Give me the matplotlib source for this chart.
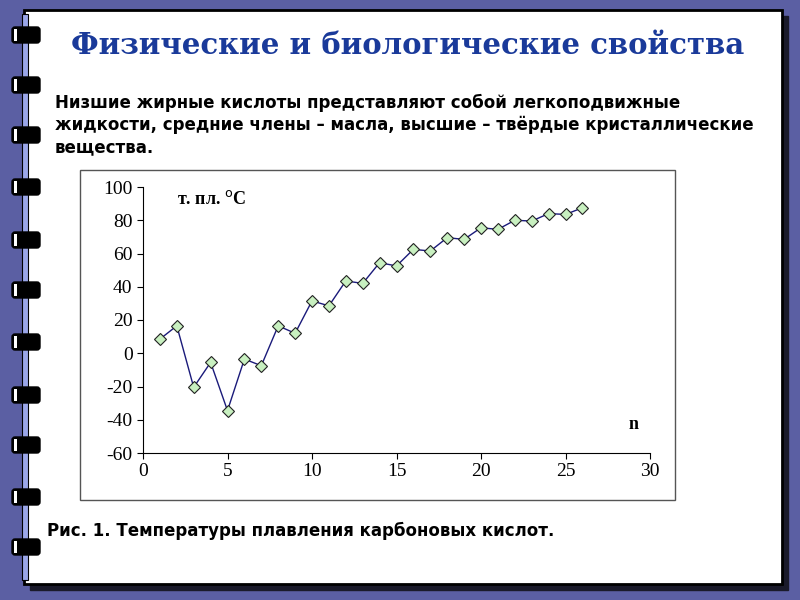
import matplotlib
matplotlib.use("Agg")
import matplotlib.pyplot as plt
from matplotlib.patches import Rectangle, FancyBboxPatch
plt.rcParams['axes.unicode_minus'] = False

n = list(range(1, 27))
tpl = [8.5, 16.5, -20.5, -5.5, -34.5, -3.5, -7.5, 16.5, 12, 31.5, 28.5, 43.5, 42,
       54.5, 52.5, 62.5, 61.5, 69.5, 68.5, 75.5, 74.5, 80, 79.5, 84, 83.5, 87.5]
xticks = [0, 5, 10, 15, 20, 25, 30]
yticks = [-60, -40, -20, 0, 20, 40, 60, 80, 100]

W, H = 800, 600
fig = plt.figure(figsize=(8, 6), dpi=100)
fig.patch.set_facecolor('#5b5fa3')
bg = fig.add_axes([0, 0, 1, 1]); bg.set_xlim(0, W); bg.set_ylim(H, 0); bg.axis('off')
bg.add_patch(Rectangle((30, 16), 758, 574, color='#1a1a2a', zorder=1))
bg.add_patch(Rectangle((24, 10), 758, 574, facecolor='white', edgecolor='black', lw=2, zorder=2))
bg.add_patch(Rectangle((22, 14), 6, 566, facecolor='#9aa6e8', edgecolor='black', lw=0.8, zorder=3))
for y in [35, 85, 135, 187, 240, 290, 342, 395, 445, 497, 547]:
    bg.add_patch(FancyBboxPatch((12, y-8), 28, 16, boxstyle='round,pad=0,rounding_size=3',
                                facecolor='black', zorder=4))
    bg.add_patch(Rectangle((14, y-6), 3, 12, facecolor='white', zorder=5))
bg.text(408, 45, 'Физические и биологические свойства', ha='center', va='center',
        fontsize=21, fontweight='bold', color='#1a3a9a', family='DejaVu Serif', zorder=6)
bg.text(55, 125, 'Низшие жирные кислоты представляют собой легкоподвижные\nжидкости, средние члены – масла, высшие – твёрдые кристаллические\nвещества.',
        ha='left', va='center', fontsize=12, fontweight='bold', family='DejaVu Sans', linespacing=1.3, zorder=6)
bg.text(47, 531, 'Рис. 1. Температуры плавления карбоновых кислот.', ha='left', va='center',
        fontsize=12, fontweight='bold', family='DejaVu Sans', zorder=6)
bg.add_patch(Rectangle((80, 170), 595, 330, facecolor='white', edgecolor='#555555', lw=1, zorder=6))

ax = fig.add_axes([143/W, 1-453/H, (650-143)/W, (453-187)/H], zorder=7)
ax.set_facecolor('none')
ax.plot(n, tpl, color='#1a1a7a', lw=1.0, marker='D', ms=6, mfc='#c8f0c0', mec='#222222', mew=0.8)
ax.set_xlim(0, 30); ax.set_ylim(-60, 100)
ax.set_xticks(xticks); ax.set_yticks(yticks)
for s in ['top', 'right']: ax.spines[s].set_visible(False)
for lab in ax.get_xticklabels() + ax.get_yticklabels():
    lab.set_family('Liberation Serif'); lab.set_fontsize(14)
ax.tick_params(direction='out', length=4)
ax.text(2, 98, 'т. пл. $^{\\mathrm{o}}$C', fontsize=13, fontweight='bold', family='Liberation Serif', va='top')
ax.text(29, -43, 'n', fontsize=13, fontweight='bold', family='Liberation Serif', ha='center', va='center')
fig.savefig('out.png', dpi=100, facecolor=fig.get_facecolor())
